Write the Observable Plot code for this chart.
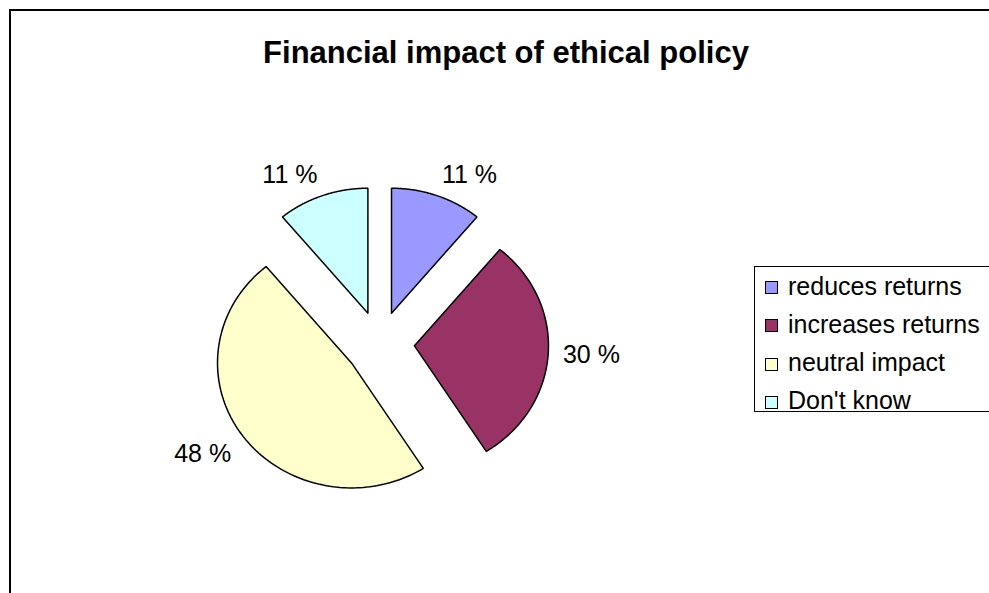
<!DOCTYPE html>
<html>
<head>
<meta charset="utf-8">
<script src="https://cdn.jsdelivr.net/npm/d3@7"></script>
<script src="https://cdn.jsdelivr.net/npm/@observablehq/plot@0.6"></script>
<style>
  html, body { margin: 0; padding: 0; background: #fff; }
  #wrap { position: relative; width: 989px; height: 593px; overflow: hidden; background: #fff;
          font-family: "Liberation Sans", Arial, sans-serif; }
  #frame { position: absolute; left: 9px; top: 9px; width: 1200px; height: 900px; border: 2px solid #000; box-sizing: border-box; }
  #title { position: absolute; left: 206px; width: 600px; top: 37px; text-align: center;
           font-weight: bold; font-size: 31px; line-height: 31px; color: #000; white-space: nowrap; }
  #chart { position: absolute; left: 0; top: 0; }
  #legend { position: absolute; left: 754px; top: 266px; width: 400px; height: 146px;
            border: 1px solid #000; box-sizing: border-box; background: #fff; }
  .item { position: absolute; left: 0; height: 30px; display: flex; align-items: center; white-space: nowrap;
          font-size: 25px; color: #000; }
  .sw { width: 11px; height: 11px; border: 1px solid #000; margin-left: 10px; margin-right: 10px; margin-top: 3px; }
</style>
</head>
<body>
<div id="wrap">
  <div id="frame"></div>
  <div id="title"></div>
  <div id="chart"></div>
  <div id="legend"></div>
</div>
<script>
const chartTitle = "Financial impact of ethical policy";
const categories = ["reduces returns", "increases returns", "neutral impact", "Don't know"];
const values = [11, 30, 48, 11];
const valueLabels = ["11 %", "30 %", "48 %", "11 %"];
const colors = ["#9999FF", "#993366", "#FFFFCC", "#CCFFFF"];

document.getElementById("title").textContent = chartTitle;

const explode = 0.26;
const arcs = d3.pie().sort(null).value(d => d)(values);

const slices = arcs.map((a, i) => {
  const mid = (a.startAngle + a.endAngle) / 2;
  const ox = explode * Math.sin(mid), oy = explode * Math.cos(mid);
  const pts = [{x: ox, y: oy}];
  const n = 120;
  for (let k = 0; k <= n; k++) {
    const t = a.startAngle + (a.endAngle - a.startAngle) * k / n;
    pts.push({x: ox + Math.sin(t), y: oy + Math.cos(t)});
  }
  pts.push({x: ox, y: oy});
  const s = Math.sin(mid), c = Math.cos(mid);
  const label = {
    x: ox + 1.11 * s, y: oy + 1.11 * c, text: valueLabels[i],
    textAnchor: s > 0.1 ? "start" : s < -0.1 ? "end" : "middle",
    lineAnchor: c > 0.5 ? "bottom" : c < -0.5 ? "top" : "middle"
  };
  return {pts, color: colors[i], label};
});

const marks = [];
slices.forEach(sl => {
  marks.push(Plot.line(sl.pts, {x: "x", y: "y", fill: sl.color, stroke: "#000", strokeWidth: 1.5, strokeLinejoin: "miter"}));
});
slices.forEach(sl => {
  marks.push(Plot.text([sl.label], {x: "x", y: "y", text: "text", textAnchor: sl.label.textAnchor,
    lineAnchor: sl.label.lineAnchor, fontSize: 25, fill: "#000"}));
});

const plot = Plot.plot({
  width: 989,
  height: 593,
  margin: 0,
  style: {background: "transparent", fontFamily: "'Liberation Sans', Arial, sans-serif", overflow: "visible"},
  x: {domain: [-1, 1], range: [379.2 - 134, 379.2 + 134], axis: null},
  y: {domain: [-1, 1], range: [343.3 + 125, 343.3 - 125], axis: null},
  marks
});
document.getElementById("chart").appendChild(plot);

const legend = document.getElementById("legend");
categories.forEach((cat, i) => {
  const item = document.createElement("div");
  item.className = "item";
  item.style.top = (4 + i * 38.3) + "px";
  const sw = document.createElement("div");
  sw.className = "sw";
  sw.style.background = colors[i];
  const tx = document.createElement("span");
  tx.textContent = cat;
  item.appendChild(sw);
  item.appendChild(tx);
  legend.appendChild(item);
});
</script>
</body>
</html>
